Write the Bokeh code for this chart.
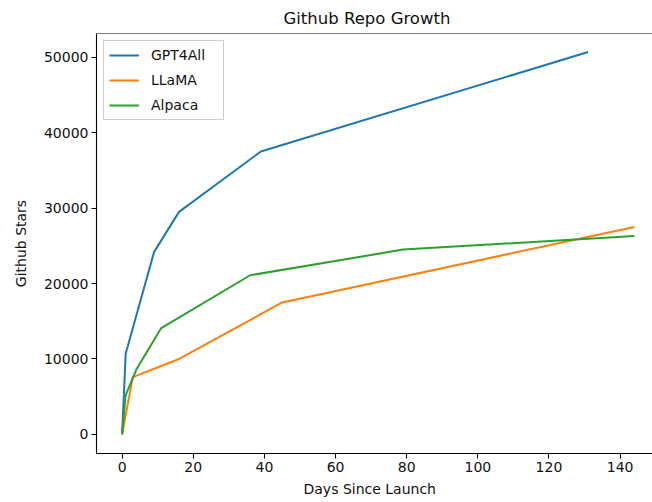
from bokeh.plotting import figure
from bokeh.models import Range1d, FixedTicker, BasicTickFormatter, Title, Legend, LegendItem, Span
from bokeh.embed import file_html
from bokeh.resources import INLINE

# data
gpt_days = [0, 1, 9, 16, 39, 131]
gpt_stars = [0, 10700, 24200, 29500, 37500, 50700]
llama_days = [0, 3, 16, 45, 144]
llama_stars = [0, 7600, 10000, 17500, 27500]
alpaca_days = [0, 1, 4, 11, 36, 79, 144]
alpaca_stars = [0, 5200, 8600, 14100, 21100, 24500, 26300]
series_names = ["GPT4All", "LLaMA", "Alpaca"]
x_ticks = [0, 20, 40, 60, 80, 100, 120, 140]
y_ticks = [0, 10000, 20000, 30000, 40000, 50000]

FONT = "DejaVu Sans"
TXT = "#111111"

p = figure(width=652, height=502, output_backend="svg", toolbar_location=None,
           x_range=Range1d(-7.2, 149.1), y_range=Range1d(-2530, 53150),
           min_border_left=96, min_border_right=0, min_border_top=33, min_border_bottom=49)
p.title = None
p.grid.visible = False
p.outline_line_color = None
p.background_fill_color = "white"
p.border_fill_color = "white"

colors = ["#1f77b4", "#ff7f0e", "#2ca02c"]
r1 = p.line(gpt_days, gpt_stars, line_color=colors[0], line_width=2)
r2 = p.line(llama_days, llama_stars, line_color=colors[1], line_width=2)
r3 = p.line(alpaca_days, alpaca_stars, line_color=colors[2], line_width=2)

p.add_layout(Span(location=53150, dimension="width", line_color="black", line_width=1.2))

for ax in (p.xaxis[0], p.yaxis[0]):
    ax.axis_line_color = "black"
    ax.axis_line_width = 1.1
    ax.major_tick_line_color = "black"
    ax.major_tick_line_width = 1.1
    ax.major_tick_out = 5
    ax.major_tick_in = 0
    ax.minor_tick_line_color = None
    ax.major_label_text_font = FONT
    ax.major_label_text_font_size = "14px"
    ax.major_label_text_color = TXT
    ax.major_label_standoff = 3
    ax.axis_label_text_font = FONT
    ax.axis_label_text_font_size = "14px"
    ax.axis_label_text_font_style = "normal"
    ax.axis_label_text_color = TXT

p.xaxis[0].ticker = FixedTicker(ticks=x_ticks)
p.yaxis[0].ticker = FixedTicker(ticks=y_ticks)
p.yaxis[0].formatter = BasicTickFormatter(use_scientific=False)
p.yaxis[0].axis_label = "Github Stars"
p.yaxis[0].axis_label_standoff = 12

xt = Title(text="Days Since Launch", align="left", offset=207, text_font=FONT,
           text_font_size="14px", text_font_style="normal", text_color=TXT, standoff=9)
p.add_layout(xt, "below")

tt = Title(text="Github Repo Growth", align="left", offset=187, text_font=FONT,
           text_font_size="16.5px", text_font_style="normal", text_color=TXT, standoff=11)
p.add_layout(tt, "above")

legend = Legend(items=[LegendItem(label=series_names[0], renderers=[r1]),
                       LegendItem(label=series_names[1], renderers=[r2]),
                       LegendItem(label=series_names[2], renderers=[r3])],
                location="top_left", margin=7, padding=5, spacing=7,
                label_height=18, glyph_height=18, glyph_width=30, label_standoff=12,
                label_width=67,
                label_text_font=FONT, label_text_font_size="14px", label_text_color=TXT,
                border_line_color="#cccccc", border_line_width=1, border_line_alpha=1,
                background_fill_alpha=0.8)
p.add_layout(legend, "center")

open("out.html", "w").write(file_html(p, INLINE))
